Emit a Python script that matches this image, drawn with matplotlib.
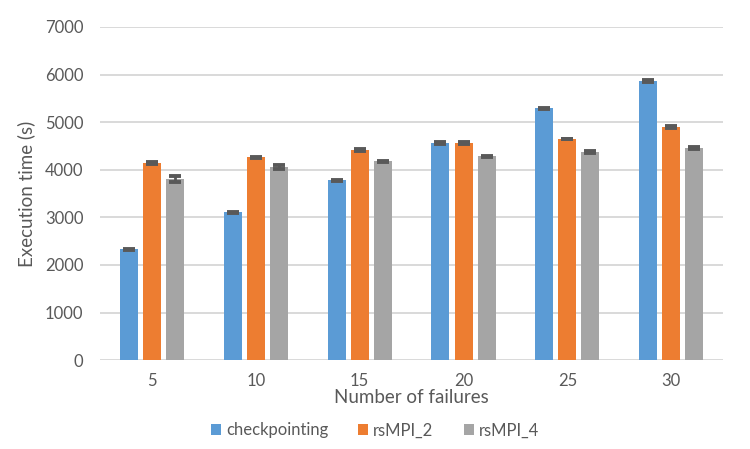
import matplotlib
matplotlib.use("Agg")
import matplotlib.pyplot as plt
import numpy as np

plt.rcParams['font.family'] = ['Lato', 'DejaVu Sans']

categories = ["5", "10", "15", "20", "25", "30"]
series_names = ["checkpointing", "rsMPI_2", "rsMPI_4"]
checkpointing = [2330, 3110, 3780, 4560, 5290, 5860]
rsmpi_2 = [4140, 4265, 4415, 4560, 4645, 4895]
rsmpi_4 = [3805, 4055, 4180, 4285, 4370, 4455]
err_checkpointing = [12, 10, 10, 25, 15, 15]
err_rsmpi_2 = [15, 10, 20, 12, 10, 20]
err_rsmpi_4 = [65, 35, 10, 12, 18, 18]
colors = ["#5B9BD5", "#ED7D31", "#A5A5A5"]

fig = plt.figure(figsize=(7.5, 4.49), dpi=100)
ax = fig.add_axes([0.1333, 0.198, 0.831, 0.742])

x = np.arange(len(categories))
width = 0.173
offsets = [-0.222, 0, 0.222]
data = [checkpointing, rsmpi_2, rsmpi_4]
errs = [err_checkpointing, err_rsmpi_2, err_rsmpi_4]
for vals, e, off, c, name in zip(data, errs, offsets, colors, series_names):
    ax.bar(x + off, vals, width, color=c, label=name, zorder=2)
    ax.errorbar(x + off, vals, yerr=e, fmt='none', ecolor="#595959",
                elinewidth=2, capsize=4.3, capthick=2.8, zorder=3)

ax.set_xlim(-0.5, len(categories) - 0.5)
ax.set_ylim(0, 7000)
ax.set_yticks(np.arange(0, 7001, 1000))
ax.set_xticks(x)
ax.set_xticklabels(categories)
ax.yaxis.grid(True, color="#D9D9D9", linewidth=1.4, zorder=0)
ax.set_axisbelow(True)
for s in ax.spines.values():
    s.set_visible(False)
ax.tick_params(axis='both', length=0, labelsize=12, colors="#595959")
ax.tick_params(axis='x', pad=9)
ax.tick_params(axis='y', pad=12)
ax.set_xlabel("Number of failures", fontsize=13.5, color="#595959", labelpad=0)
ax.set_ylabel("Execution time (s)", fontsize=13.5, color="#595959", labelpad=7)

leg = fig.legend(loc='lower center', bbox_to_anchor=(0.5, -0.01), ncol=3, frameon=False,
                 fontsize=12, handlelength=0.6, handleheight=0.6, handletextpad=0.3,
                 columnspacing=1.8)
for t in leg.get_texts():
    t.set_color("#595959")

fig.savefig("out.png", dpi=100)
